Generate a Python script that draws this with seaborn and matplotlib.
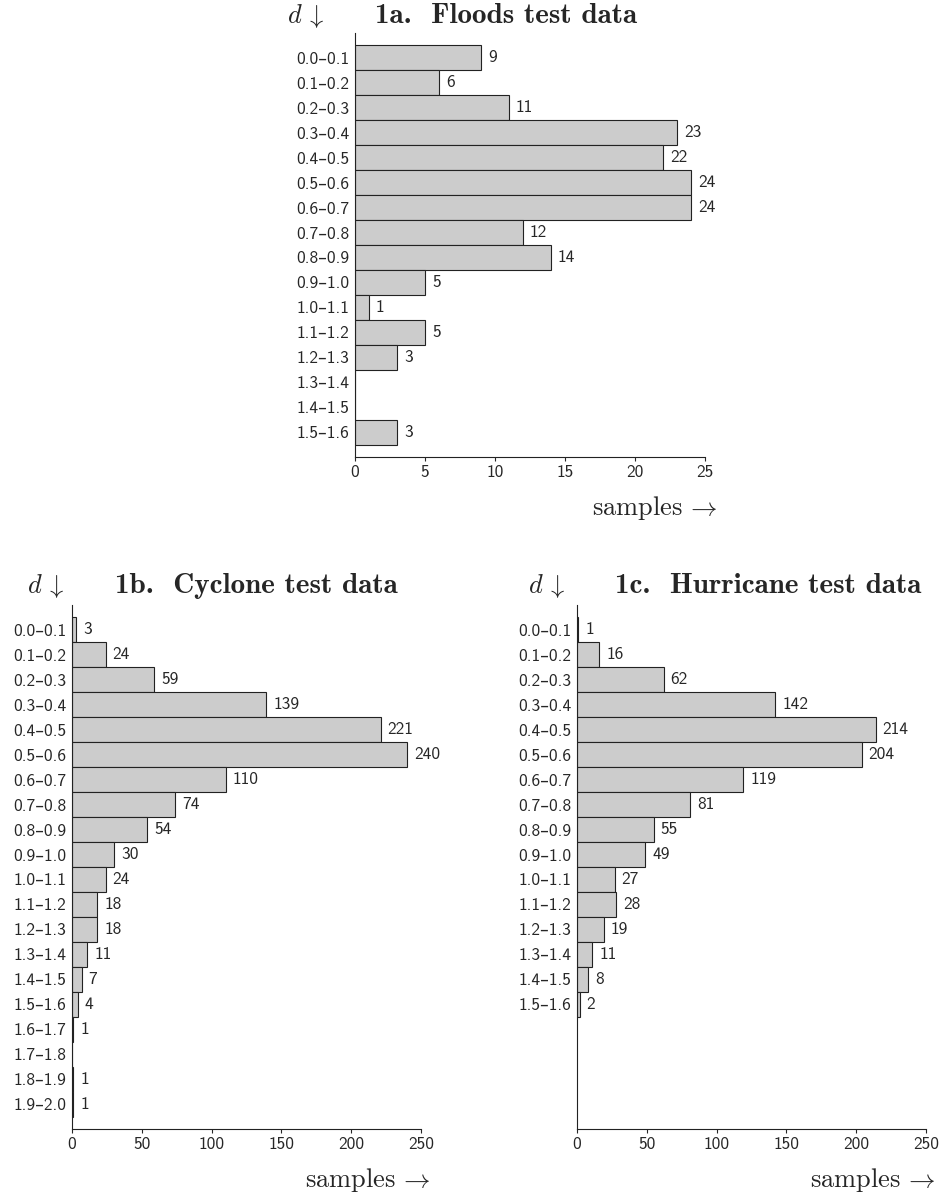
import matplotlib
matplotlib.use('Agg')
import matplotlib.pyplot as plt
import seaborn as sns

sns.set_style('ticks')
plt.rcParams['font.family'] = ['cmss10', 'DejaVu Sans']
plt.rcParams['mathtext.fontset'] = 'cm'
plt.rcParams['axes.linewidth'] = 0.8
plt.rcParams['axes.edgecolor'] = '#222222'

# depth bins (d) and sample counts per bin
depth_bins = ['0.0–0.1', '0.1–0.2', '0.2–0.3', '0.3–0.4', '0.4–0.5',
              '0.5–0.6', '0.6–0.7', '0.7–0.8', '0.8–0.9', '0.9–1.0',
              '1.0–1.1', '1.1–1.2', '1.2–1.3', '1.3–1.4', '1.4–1.5',
              '1.5–1.6', '1.6–1.7', '1.7–1.8', '1.8–1.9', '1.9–2.0']

floods = [9, 6, 11, 23, 22, 24, 24, 12, 14, 5, 1, 5, 3, 0, 0, 3]
cyclone = [3, 24, 59, 139, 221, 240, 110, 74, 54, 30, 24, 18, 18, 11, 7, 4, 1, 0, 1, 1]
hurricane = [1, 16, 62, 142, 214, 204, 119, 81, 55, 49, 27, 28, 19, 11, 8, 2]

W, H = 940, 1196
fig = plt.figure(figsize=(W / 100, H / 100), dpi=100)


def px_axes(left, top, right, bottom):
    return fig.add_axes([left / W, 1 - bottom / H, (right - left) / W, (bottom - top) / H])


def draw(ax, values, nrows, xmax, step):
    labels = depth_bins[:len(values)]
    sns.barplot(x=values, y=labels, orient='h', color='#cccccc', saturation=1,
                edgecolor='#222222', linewidth=0.8, width=1.0, ax=ax)
    ax.bar_label(ax.containers[0], labels=[str(v) if v else '' for v in values],
                 padding=5, fontsize=12.5)
    ax.set_ylim(nrows, -1)
    ax.set_xlim(0, xmax)
    ax.set_xticks(range(0, xmax + 1, step))
    ax.set_xlabel('')
    ax.set_ylabel('')
    ax.tick_params(axis='y', length=0, labelsize=12.5, pad=4)
    ax.tick_params(axis='x', length=3, width=0.8, labelsize=12.5, pad=3)
    sns.despine(ax=ax)


ax_a = px_axes(355, 33, 705, 457)
draw(ax_a, floods, 16, 25, 5)
ax_b = px_axes(72, 605, 421, 1129)
draw(ax_b, cyclone, 20, 250, 50)
ax_c = px_axes(577, 605, 926, 1129)
draw(ax_c, hurricane, 20, 250, 50)

titles = [(287, 375, 16, '1a.  Floods test data'),
          (27, 115, 586, '1b.  Cyclone test data'),
          (528, 615, 586, '1c.  Hurricane test data')]
for dx, tx, ty, title in titles:
    fig.text(dx / W, 1 - ty / H, r'$d\,\downarrow$', fontsize=19, va='center', ha='left')
    fig.text(tx / W, 1 - ty / H, title, fontsize=21, va='center', ha='left',
             family=['cmb10', 'DejaVu Serif'])

for rx, ry in [(717, 508), (430, 1180), (935, 1180)]:
    fig.text(rx / W, 1 - ry / H, r'$\mathrm{samples}\,\rightarrow$', fontsize=19,
             va='center', ha='right')

fig.savefig('out.png', dpi=100)
